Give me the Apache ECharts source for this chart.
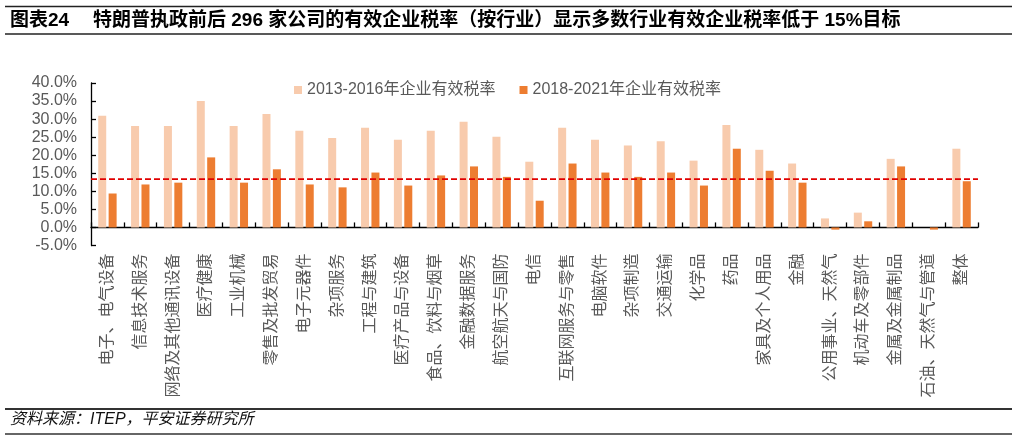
<!DOCTYPE html>
<html>
<head>
<meta charset="utf-8">
<script src="https://cdn.jsdelivr.net/npm/echarts@6/dist/echarts.min.js"></script>
<style>html,body{margin:0;padding:0;background:#fff;}#c{width:1017px;height:438px;}</style>
</head>
<body>
<div id="c"></div>
<script>
const categories = ['电子、电气设备','信息技术服务','网络及其他通讯设备','医疗健康','工业机械','零售及批发贸易','电子元器件','杂项服务','工程与建筑','医疗产品与设备','食品、饮料与烟草','金融数据服务','航空航天与国防','电信','互联网服务与零售','电脑软件','杂项制造','交通运输','化学品','药品','家具及个人用品','金融','公用事业、天然气','机动车及零部件','金属及金属制品','石油、天然气与管道','整体'];
const rate2013_2016 = [30.9,28.1,28.1,35.0,28.1,31.4,26.8,24.8,27.6,24.3,26.8,29.3,25.1,18.2,27.6,24.3,22.7,23.9,18.5,28.4,21.5,17.7,2.5,4.1,19.0,0,21.8];
const rate2018_2021 = [9.4,11.9,12.4,19.4,12.4,16.1,11.9,11.1,15.2,11.6,14.4,16.9,14.0,7.4,17.7,15.2,14.0,15.2,11.6,21.8,15.7,12.4,-0.6,1.7,16.9,-0.6,12.8];
const seriesNames = ['2013-2016年企业有效税率','2018-2021年企业有效税率'];
const targetLine = 13.5;
const yMin = -5, yMax = 40, yInterval = 5;
const titleLabel = '图表24';
const titleText = '特朗普执政前后 296 家公司的有效企业税率（按行业）显示多数行业有效企业税率低于 15%目标';
const sourceText = '资料来源：ITEP，平安证券研究所';

const FONT = '"Liberation Sans", "Noto Sans CJK SC", sans-serif';
const chart = echarts.init(document.getElementById('c'));
chart.setOption({
  animation: false,
  backgroundColor: '#fff',
  textStyle: { fontFamily: FONT },
  grid: { left: 91, right: 39, top: 83, bottom: 192.5, containLabel: false },
  legend: {
    left: 289, top: 77,
    icon: 'rect', itemWidth: 8, itemHeight: 8, itemGap: 24,
    textStyle: { fontSize: 16, color: '#595959', fontFamily: FONT },
    data: seriesNames
  },
  xAxis: {
    type: 'category',
    data: categories,
    axisLine: { onZero: true, lineStyle: { color: '#000', width: 1.3 } },
    axisTick: { show: true, inside: true, length: 5, lineStyle: { color: '#000', width: 1.3 } },
    axisLabel: { interval: 0, rotate: 90, margin: 8, fontSize: 16, color: '#595959', fontFamily: FONT }
  },
  yAxis: {
    type: 'value', min: yMin, max: yMax, interval: yInterval,
    axisLine: { show: true, lineStyle: { color: '#000', width: 1.3 } },
    axisTick: { show: true, inside: true, length: 5, lineStyle: { color: '#000', width: 1.3 } },
    splitLine: { show: false },
    axisLabel: { margin: 14, fontSize: 16, color: '#595959', fontFamily: FONT,
      formatter: v => v.toFixed(1) + '%' }
  },
  series: [
    { name: seriesNames[0], type: 'bar', data: rate2013_2016, barWidth: 8, barGap: '30%',
      itemStyle: { color: '#F8CBAD' } },
    { name: seriesNames[1], type: 'bar', data: rate2018_2021, barWidth: 8,
      itemStyle: { color: '#ED7D31' },
      markLine: { silent: true, symbol: ['none','none'], label: { show: false },
        lineStyle: { color: '#E00000', type: [6,3], width: 1.75 },
        data: [{ yAxis: targetLine }] } }
  ],
  graphic: [
    { type: 'line', shape: { x1: 5, y1: 6.5, x2: 1012, y2: 6.5 }, style: { stroke: '#222', lineWidth: 1.5 } },
    { type: 'line', shape: { x1: 5, y1: 34, x2: 1012, y2: 34 }, style: { stroke: '#222', lineWidth: 1.3 } },
    { type: 'text', left: 10, top: 11, style: { text: titleLabel, fill: '#000', font: 'bold 19px ' + FONT } },
    { type: 'text', left: 93, top: 11, style: { text: titleText, fill: '#000', font: 'bold 19px ' + FONT } },
    { type: 'line', shape: { x1: 5, y1: 409, x2: 1012, y2: 409 }, style: { stroke: '#333', lineWidth: 2 } },
    { type: 'line', shape: { x1: 5, y1: 434, x2: 1012, y2: 434 }, style: { stroke: '#333', lineWidth: 1.3 } },
    { type: 'text', left: 10, top: 412, style: { text: sourceText, fill: '#111', font: 'italic 16px ' + FONT } }
  ]
});
</script>
</body>
</html>
